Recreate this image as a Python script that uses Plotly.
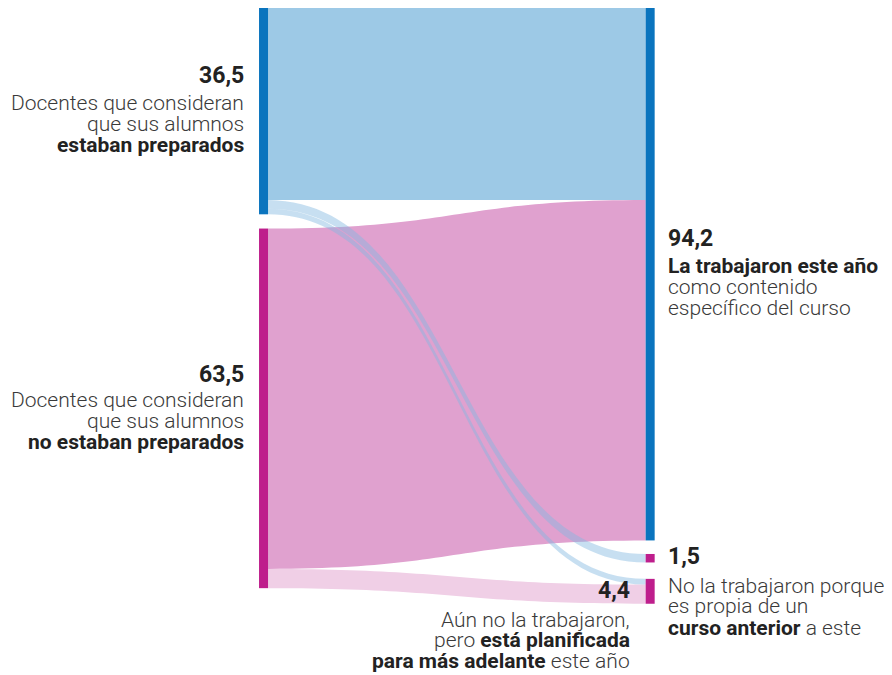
import plotly.graph_objects as go

# nodes: left = opinion of teachers, right = what happened with the topic
node_values = [36.5, 63.5, 94.2, 1.5, 4.4]
node_colors = ["#0a74be", "#be1e8c", "#0a74be", "#be1e8c", "#be1e8c"]

# links (pink ones first so the thin blue ones sit on top)
link_source = [1, 1, 0, 0, 0]
link_target = [2, 4, 2, 3, 4]
link_value = [60.2, 3.4, 34.0, 1.5, 1.0]
link_colors = ["rgb(224,161,207)", "rgb(240,207,230)", "rgb(157,201,230)",
               "rgba(130,185,225,0.45)", "rgba(130,185,225,0.45)"]

# node centres inside the domain (x from left, y from top)
node_x = [0.033, 0.033, 0.976, 0.976, 0.976]
node_y = [0.1736, 0.674, 0.448, 0.9263, 0.982]

# page body has an 8px margin, so the figure is drawn 8px in from the corner
OFF = 8
W, H = 892 - OFF, 675 - OFF
dom_x = [242 / W, 652 / W]
dom_y = [1 - 594 / H, 1]

fig = go.Figure(go.Sankey(
    arrangement="fixed",
    domain=dict(x=dom_x, y=dom_y),
    node=dict(
        label=[""] * 5,
        color=node_colors,
        thickness=9,
        pad=14,
        x=node_x,
        y=node_y,
        line=dict(width=0),
        hoverinfo="none",
    ),
    link=dict(
        source=link_source,
        target=link_target,
        value=link_value,
        color=link_colors,
        line=dict(width=0),
        hoverinfo="none",
    ),
))

FONT = "Roboto"
DARK = "#222222"
GREY = "#3a3a3a"


def txt(x, y, text, anchor, bold=False, size=21):
    # x, y in screen pixels of the final page
    fig.add_annotation(
        x=(x - OFF) / W, y=1 - (y - OFF) / H, xref="paper", yref="paper",
        text=text, showarrow=False, xanchor=anchor, yanchor="middle",
        align=anchor, borderpad=0,
        font=dict(family=FONT, size=size, color=DARK if bold else GREY,
                  weight=700 if bold else 300),
    )


B = "<b style='color:#222222'>"

# left top
txt(245, 75, "36,5", "right", bold=True, size=23)
txt(245, 103, "Docentes que consideran", "right")
txt(245, 124, "que sus alumnos", "right")
txt(245, 145, "estaban preparados", "right", bold=True)

# left bottom
txt(245, 374, "63,5", "right", bold=True, size=23)
txt(245, 400, "Docentes que consideran", "right")
txt(245, 421, "que sus alumnos", "right")
txt(245, 442, "no estaban preparados", "right", bold=True)

# right top
txt(667, 238, "94,2", "left", bold=True, size=23)
txt(667, 266, "La trabajaron este año", "left", bold=True)
txt(667, 287, "como contenido", "left")
txt(667, 308, "específico del curso", "left")

# right middle
txt(667, 556, "1,5", "left", bold=True, size=23)
txt(667, 586, "No la trabajaron porque", "left")
txt(667, 606, "es propia de un", "left")
txt(667, 628, B + "curso anterior</b> a este", "left")

# bottom middle
txt(631, 590, "4,4", "right", bold=True, size=23)
txt(631, 620, "Aún no la trabajaron,", "right")
txt(631, 640, "pero " + B + "está planificada</b>", "right")
txt(631, 661, B + "para más adelante</b> este año", "right")

fig.update_layout(
    width=W, height=H,
    margin=dict(l=0, r=0, t=0, b=0),
    paper_bgcolor="white",
    plot_bgcolor="white",
    font=dict(family=FONT),
)

fig.write_html("out.html")
